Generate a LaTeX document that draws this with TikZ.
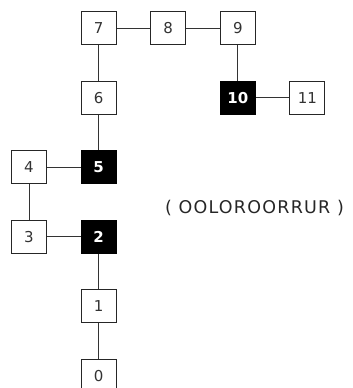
\documentclass[tikz,border=0pt]{standalone}
\usepackage{fontspec}
\setmainfont{DejaVu Sans}
\begin{document}
\begin{tikzpicture}[x=1pt,y=1pt,
  cell/.style={draw=black!85, line width=0.9pt, fill=white, minimum width=35pt, minimum height=33pt, inner sep=0pt, font=\fontsize{15}{15}\selectfont, text=black!80},
  hcell/.style={cell, fill=black, draw=black, text=white, font=\fontsize{15}{15}\selectfont\bfseries},
  link/.style={draw=black!80, line width=0.9pt}]
  \useasboundingbox (0,0) rectangle (353,388);
  % grid positions: column i, row j (rows counted from the top)
  \def\gx#1{29+69.6*#1}
  \def\gy#1{388-28-69.6*#1}
  \node[cell]  (n0)  at ({\gx{1}},{\gy{5}}) {0};
  \node[cell]  (n1)  at ({\gx{1}},{\gy{4}}) {1};
  \node[hcell] (n2)  at ({\gx{1}},{\gy{3}}) {2};
  \node[cell]  (n3)  at ({\gx{0}},{\gy{3}}) {3};
  \node[cell]  (n4)  at ({\gx{0}},{\gy{2}}) {4};
  \node[hcell] (n5)  at ({\gx{1}},{\gy{2}}) {5};
  \node[cell]  (n6)  at ({\gx{1}},{\gy{1}}) {6};
  \node[cell]  (n7)  at ({\gx{1}},{\gy{0}}) {7};
  \node[cell]  (n8)  at ({\gx{2}},{\gy{0}}) {8};
  \node[cell]  (n9)  at ({\gx{3}},{\gy{0}}) {9};
  \node[hcell] (n10) at ({\gx{3}},{\gy{1}}) {10};
  \node[cell]  (n11) at ({\gx{4}},{\gy{1}}) {11};
  \draw[link] (n0) -- (n1);
  \draw[link] (n1) -- (n2);
  \draw[link] (n2) -- (n3);
  \draw[link] (n3) -- (n4);
  \draw[link] (n4) -- (n5);
  \draw[link] (n5) -- (n6);
  \draw[link] (n6) -- (n7);
  \draw[link] (n7) -- (n8);
  \draw[link] (n8) -- (n9);
  \draw[link] (n9) -- (n10);
  \draw[link] (n10) -- (n11);
  \node[font=\fontsize{17.5}{17.5}\selectfont\addfontfeature{LetterSpace=7}, text=black!85, inner sep=0pt] (word) at (254.5,180) {( OOLOROORRUR )};
\end{tikzpicture}
\end{document}
